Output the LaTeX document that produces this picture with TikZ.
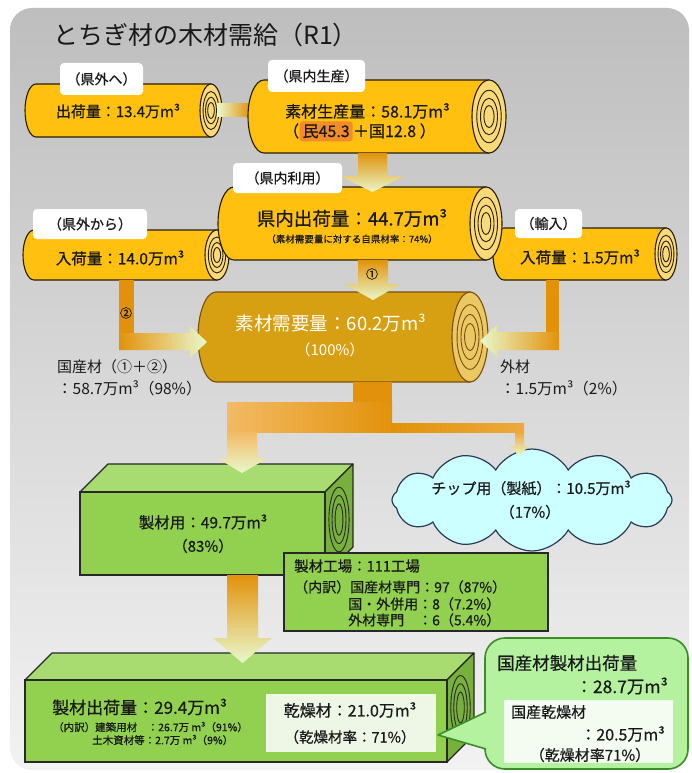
\documentclass[tikz,border=0pt]{standalone}
\usepackage{fontspec}
\setmainfont{Noto Sans CJK JP}[FakeBold=0.6]
\newfontfamily\plainfont{Noto Sans CJK JP}
\usetikzlibrary{shapes.symbols}

\definecolor{bgtop}{RGB}{190,190,190}
\definecolor{bgbot}{RGB}{242,242,242}
\definecolor{logbody}{RGB}{255,192,16}
\definecolor{logcap}{RGB}{250,218,120}
\definecolor{logline}{RGB}{40,30,10}
\definecolor{demandbody}{RGB}{214,160,18}
\definecolor{demandcap}{RGB}{236,200,100}
\definecolor{demandline}{RGB}{120,80,10}
\definecolor{flowdark}{RGB}{226,146,10}
\definecolor{flowmid}{RGB}{236,170,60}
\definecolor{flowlight}{RGB}{243,186,100}
\definecolor{flowpale}{RGB}{232,248,204}
\definecolor{boxfront}{RGB}{146,208,80}
\definecolor{boxtop}{RGB}{168,220,112}
\definecolor{boxside}{RGB}{120,176,60}
\definecolor{boxline}{RGB}{40,40,40}
\definecolor{dryfill}{RGB}{238,247,230}
\definecolor{callfill}{RGB}{180,242,160}
\definecolor{callline}{RGB}{60,140,40}
\definecolor{callinner}{RGB}{244,251,240}
\definecolor{cloudfill}{RGB}{204,255,255}
\definecolor{cloudline}{RGB}{40,60,90}
\definecolor{hilite}{RGB}{242,140,40}
\definecolor{ink}{RGB}{25,25,25}

\newcommand\fs[1]{\fontsize{#1}{#1}\selectfont}

% log lying on its side: name, left, top, bottom, cap centre x, cap x radius,
% left-end x radius, colour prefix
\newcommand\woodlog[8]{%
  \pgfmathsetmacro\lgR{(#4-#3)/2}%
  \pgfmathsetmacro\lgM{(#4+#3)/2}%
  \filldraw[fill=#8body, draw=#8line, line width=1.1pt] (#5,#3) -- ({#2+#7},#3)
     arc[start angle=90, end angle=270, x radius=#7pt, y radius=\lgR pt] -- (#5,#4) -- cycle;
  \filldraw[fill=#8cap, draw=#8line, line width=1.1pt] (#5,\lgM) ellipse[x radius=#6pt, y radius=\lgR pt];
  \foreach \k in {0.72,0.5,0.3}
    \draw[#8line, line width=0.9pt] (#5,\lgM) ellipse[x radius=\k*#6pt, y radius=\k*\lgR pt];
  \coordinate (#1) at ({(#2+#5)/2},\lgM);
}

% squared timber: name, left, top, right, bottom, depth
\newcommand\timber[6]{%
  \filldraw[fill=boxtop, draw=boxline, line width=1.1pt, line join=round]
    (#2,#3) -- ({#2+#6},{#3-#6}) -- ({#4+#6},{#3-#6}) -- (#4,#3) -- cycle;
  \filldraw[fill=boxside, draw=boxline, line width=1.1pt, line join=round]
    (#4,#3) -- ({#4+#6},{#3-#6}) -- ({#4+#6},{#5-#6}) -- (#4,#5) -- cycle;
  \filldraw[fill=boxfront, draw=boxline, line width=1.1pt] (#2,#3) rectangle (#4,#5);
  \foreach \a/\b in {0.36/0.39,0.25/0.29,0.14/0.19}
    \draw[boxline, line width=0.9pt] ({#4+#6/2},{(#3+#5)/2-#6/2})
      ellipse[x radius=\a*#6pt, y radius=\b*(#5-#3)*1pt];
  \coordinate (#1) at ({(#2+#4)/2},{(#3+#5)/2});
}

\begin{document}
\begin{tikzpicture}[x=1pt,y=-1pt,
  txt/.style={text=ink, inner sep=0pt},
  tag/.style={fill=white, rounded corners=4pt, inner sep=0pt, text=ink, font=\fs{14}},
  flowdown/.style={top color=flowdark, bottom color=flowpale},
]
\useasboundingbox (0,0) rectangle (691,773);
\fill[white] (0,0) rectangle (691,773);
\shade[top color=bgtop, bottom color=bgbot, rounded corners=22pt] (10,8) rectangle (689,770);

% logs
\woodlog{imp}{493}{228}{280}{666}{11}{11}{log}
\woodlog{inflow}{23}{230}{280}{217}{12}{11}{log}
\woodlog{outflow}{25}{84}{137}{211}{11}{11}{log}
\shade[left color=flowpale, right color=flowdark] (217,104) rectangle (250,117);
\woodlog{prod}{248}{80}{153}{489}{17}{16}{log}
\woodlog{use}{218}{187}{260}{486}{16}{16}{log}
\woodlog{demand}{198}{292}{382}{470}{18}{18}{demand}

% chip cloud and timbers
\node[cloud, cloud puffs=12, cloud puff arc=120, aspect=2.7, inner sep=0pt,
      minimum width=280pt, minimum height=102pt, fill=cloudfill, draw=cloudline,
      line width=1.2pt] (chip) at (532,500) {};
\timber{saw}{80}{492}{325}{575}{28}
\timber{ship}{25}{680}{447}{762}{27}

% flows
\shade[flowdown] (358,153) -- (358,176) -- (340,176) -- (372.5,192) -- (404,176) -- (387,176) -- (387,153) -- cycle;
\shade[flowdown] (358,260) -- (358,284) -- (344,284) -- (373,300) -- (401,284) -- (388,284) -- (388,260) -- cycle;
\fill[flowdark] (119,280) rectangle (134,350);
\shade[left color=flowdark, right color=flowpale] (119,333) -- (190,333) -- (190,326) -- (207,342) -- (190,358) -- (190,350) -- (119,350) -- cycle;
\fill[flowdark] (546,280) rectangle (559,350);
\shade[left color=flowpale, right color=flowdark] (559,332) -- (497,332) -- (497,325) -- (480,341) -- (497,357) -- (497,350) -- (559,350) -- cycle;
\fill[flowdark] (353,382) rectangle (392,403);
\shade[left color=flowlight, right color=flowdark] (227,402) rectangle (392,432);
\shade[left color=flowdark, right color=flowmid] (392,423) rectangle (524,432);
\shade[top color=flowmid, bottom color=flowpale] (515,432) -- (515,446) -- (510,446) -- (519.5,456) -- (529,446) -- (524,446) -- (524,432) -- cycle;
\shade[top color=flowlight, bottom color=flowpale] (227,432) -- (227,458) -- (217,458) -- (242,473) -- (268,458) -- (257,458) -- (257,432) -- cycle;
\shade[flowdown] (227,575) -- (227,638) -- (213,638) -- (242.5,663) -- (272,638) -- (258,638) -- (258,575) -- cycle;

% title
\node[txt, anchor=west, font=\plainfont\fs{25}] (title) at (53,35) {とちぎ材の木材需給（R1）};

% tags
\node[tag, minimum width=83pt, minimum height=32pt] (tOut) at (101.5,79) {（県外へ）};
\node[tag, minimum width=97pt, minimum height=32pt] (tProd) at (316.5,76) {（県内生産）};
\node[tag, minimum width=109pt, minimum height=30pt] (tUse) at (287.5,178) {（県内利用）};
\node[tag, minimum width=114pt, minimum height=30pt] (tIn) at (90,224) {（県外から）};
\node[tag, minimum width=67pt, minimum height=29pt] (tImp) at (548.5,223.5) {（輸入）};

% log texts
\node[txt, font=\fs{15}] (outTxt) at (118,111) {出荷量：13.4万m³};
\node[txt, font=\fs{16}, anchor=west] (prodTxt) at (285,111) {素材生産量：58.1万m³};
\node[txt, font=\fs{16}, anchor=base west] (pA) at (283,137) {（};
\node[txt, font=\fs{16}, anchor=base west, fill=hilite, rounded corners=3pt, inner xsep=3pt, inner ysep=3pt] (pB) at (pA.base east) {民45.3};
\node[txt, font=\fs{16}, anchor=base west] (pC) at (pB.base east) {＋国12.8 ）};
\node[txt, font=\fs{18.5}] (useTxt) at (352,218) {県内出荷量：44.7万m³};
\node[txt, font=\fs{9.5}] (useSub) at (352,239) {（素材需要量に対する自県材率：74\%）};
\node[txt, font=\fs{15.5}] (inTxt) at (120,258) {入荷量：14.0万m³};
\node[txt, font=\fs{15.5}] (impTxt) at (580,257) {入荷量：1.5万m³};
\node[txt, font=\plainfont\fs{18.5}, text=white] (demTxt) at (331,323) {素材需要量：60.2万m³};
\node[txt, font=\plainfont\fs{15}, text=white] (demPct) at (330,350) {（100\%）};
\node[txt, font=\fs{12}] (n1) at (372,274) {①};
\node[txt, font=\fs{12}] (n2) at (126,313) {②};
\node[txt, font=\plainfont\fs{15}, anchor=west] (domA) at (57,367) {国産材（①＋②）};
\node[txt, font=\plainfont\fs{15.5}, anchor=west] (domB) at (57,388) {：58.7万m³（98\%）};
\node[txt, font=\plainfont\fs{15}, anchor=west] (forA) at (500,367) {外材};
\node[txt, font=\plainfont\fs{15.5}, anchor=west] (forB) at (500,388) {：1.5万m³（2\%）};

% cloud and timber texts
\node[txt, font=\fs{15}] (chipA) at (531,488) {チップ用（製紙）：10.5万m³};
\node[txt, font=\fs{15}] (chipB) at (530,512) {（17\%）};
\node[txt, font=\fs{15.5}] (sawA) at (203,522) {製材用：49.7万m³};
\node[txt, font=\fs{15}] (sawB) at (203,546) {（83\%）};

% mills
\filldraw[fill=boxfront, draw=boxline, line width=1.1pt] (284,553) rectangle (548,631);
\node[txt, font=\fs{14.5}, anchor=west] (millA) at (294,566) {製材工場：111工場};
\node[txt, font=\fs{14}, anchor=west] (millB) at (294,587) {（内訳）国産材専門：97（87\%）};
\node[txt, font=\fs{14}, anchor=west] (millC) at (348,604) {国・外併用：8（7.2\%）};
\node[txt, font=\fs{14}, anchor=west] (millD) at (348,620) {外材専門　：6（5.4\%）};

% shipments
\node[txt, font=\fs{17}, anchor=west] (shipA) at (52,707) {製材出荷量：29.4万m³};
\node[txt, font=\fs{10.5}, anchor=west] (shipB) at (53,727) {（内訳）建築用材　：26.7万 m³（91\%）};
\node[txt, font=\fs{10.5}, anchor=west] (shipC) at (92,740) {土木資材等：2.7万 m³（9\%）};
\fill[dryfill] (266,694) rectangle (436,752);
\node[txt, font=\fs{16}] (dryA) at (350,710) {乾燥材：21.0万m³};
\node[txt, font=\fs{14.5}] (dryB) at (350,737) {（乾燥材率：71\%）};

% callout
\filldraw[fill=callfill, draw=callline, line width=1.6pt, rounded corners=20pt] (485,638) rectangle (688,769);
\fill[callfill] (438,735) -- (487,712) -- (487,749) -- cycle;
\draw[callline, line width=1.6pt, line join=round] (486,712) -- (438,735) -- (486,749);
\fill[callinner] (504,700) rectangle (673,763);
\node[txt, font=\fs{17.5}, anchor=west] (callA) at (497,663) {国産材製材出荷量};
\node[txt, font=\fs{17.5}, anchor=east] (callB) at (668,686) {：28.7万m³};
\node[txt, font=\fs{15}, anchor=west] (callC) at (511,712) {国産乾燥材};
\node[txt, font=\fs{16}, anchor=east] (callD) at (665,734) {：20.5万m³};
\node[txt, font=\fs{15}] (callE) at (590,755) {（乾燥材率71\%）};
\end{tikzpicture}
\end{document}
